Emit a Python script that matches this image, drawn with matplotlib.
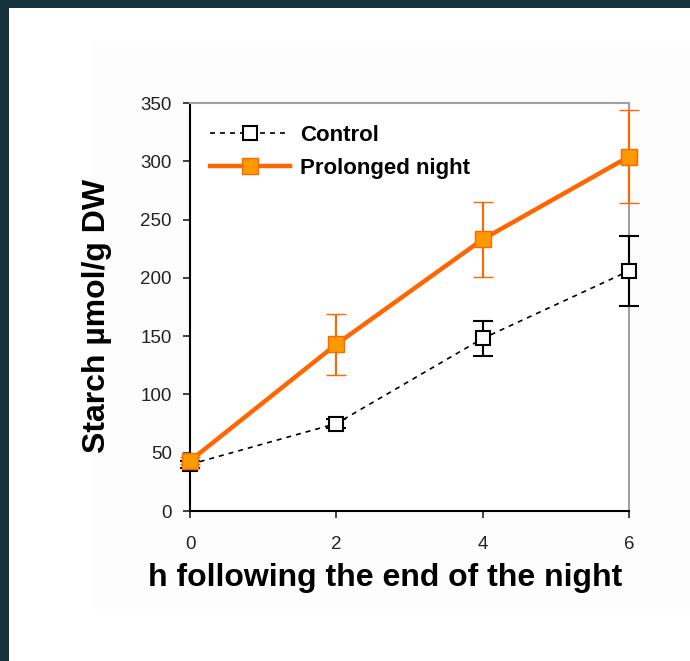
import matplotlib
matplotlib.use("Agg")
import matplotlib.pyplot as plt
from matplotlib.patches import Rectangle
from matplotlib.lines import Line2D

plt.rcParams['font.family'] = ['Liberation Sans', 'DejaVu Sans']

hours = [0, 2, 4, 6]
control = [40, 75, 148, 206]
control_err = [3, 4, 15, 30]
prolonged = [43, 143, 233, 304]
prolonged_err = [3, 26, 32, 40]

orange_line = '#ff6600'
orange_face = '#ff9900'

fig = plt.figure(figsize=(6.9, 6.61), dpi=100)
fig.patch.set_facecolor('#15323e')
# white page and faint plot panel
fig.patches.append(Rectangle((9 / 690, 0), 1, (661 - 8) / 661, transform=fig.transFigure,
                             facecolor='white', edgecolor='none', zorder=-10))
fig.patches.append(Rectangle((92 / 690, 1 - 610 / 661), 1, (610 - 42) / 661, transform=fig.transFigure,
                             facecolor='#fdfdfd', edgecolor='none', zorder=-9))

ax = fig.add_axes([190 / 690, 1 - 511 / 661, (629 - 190) / 690, (511 - 103) / 661])
ax.set_facecolor('white')

ctl_style = dict(color='black', lw=1.2, ls=(0, (3, 3)), marker='s', ms=10,
                 mfc='white', mec='black', mew=1.5)
pro_style = dict(color=orange_line, lw=3.2, ls='-', marker='s', ms=11,
                 mfc=orange_face, mec=orange_line, mew=1)

c = ax.errorbar(hours, control, yerr=control_err, ecolor='black', elinewidth=1.5,
                capsize=7, capthick=1.5, zorder=3, **ctl_style)
p = ax.errorbar(hours, prolonged, yerr=prolonged_err, ecolor=orange_line, elinewidth=1.5,
                capsize=7, capthick=1.5, zorder=4, **pro_style)
for cont in (c, p):
    for art in cont.get_children():
        art.set_clip_on(False)

ax.set_xlim(0, 6)
ax.set_ylim(0, 350)
ax.set_xticks(hours)
ax.set_yticks(range(0, 351, 50))
ax.tick_params(direction='out', length=5, width=1.2, labelsize=13.5, colors='#222222')
ax.tick_params(axis='x', pad=13)
ax.tick_params(axis='y', pad=8)

for side in ['left', 'bottom']:
    ax.spines[side].set_color('black')
    ax.spines[side].set_linewidth(1.5)
for side in ['top', 'right']:
    ax.spines[side].set_color('#a0a0a0')
    ax.spines[side].set_linewidth(1.5)

fig.text(385 / 690, 1 - 578 / 661, 'h following the end of the night', fontsize=23,
         fontweight='bold', ha='center', va='center')
fig.text(97 / 690, 1 - 316 / 661, 'Starch µmol/g DW', fontsize=23, fontweight='bold',
         rotation=90, ha='center', va='center')

handles = [Line2D([], [], **ctl_style), Line2D([], [], **pro_style)]
ax.legend(handles, ['Control', 'Prolonged night'], loc='upper left',
          bbox_to_anchor=(0.0, 0.995), frameon=False,
          handlelength=3.6, handletextpad=0.45, labelspacing=0.55,
          prop={'weight': 'bold', 'size': 16})

fig.savefig('out.png', dpi=100, facecolor=fig.get_facecolor())
